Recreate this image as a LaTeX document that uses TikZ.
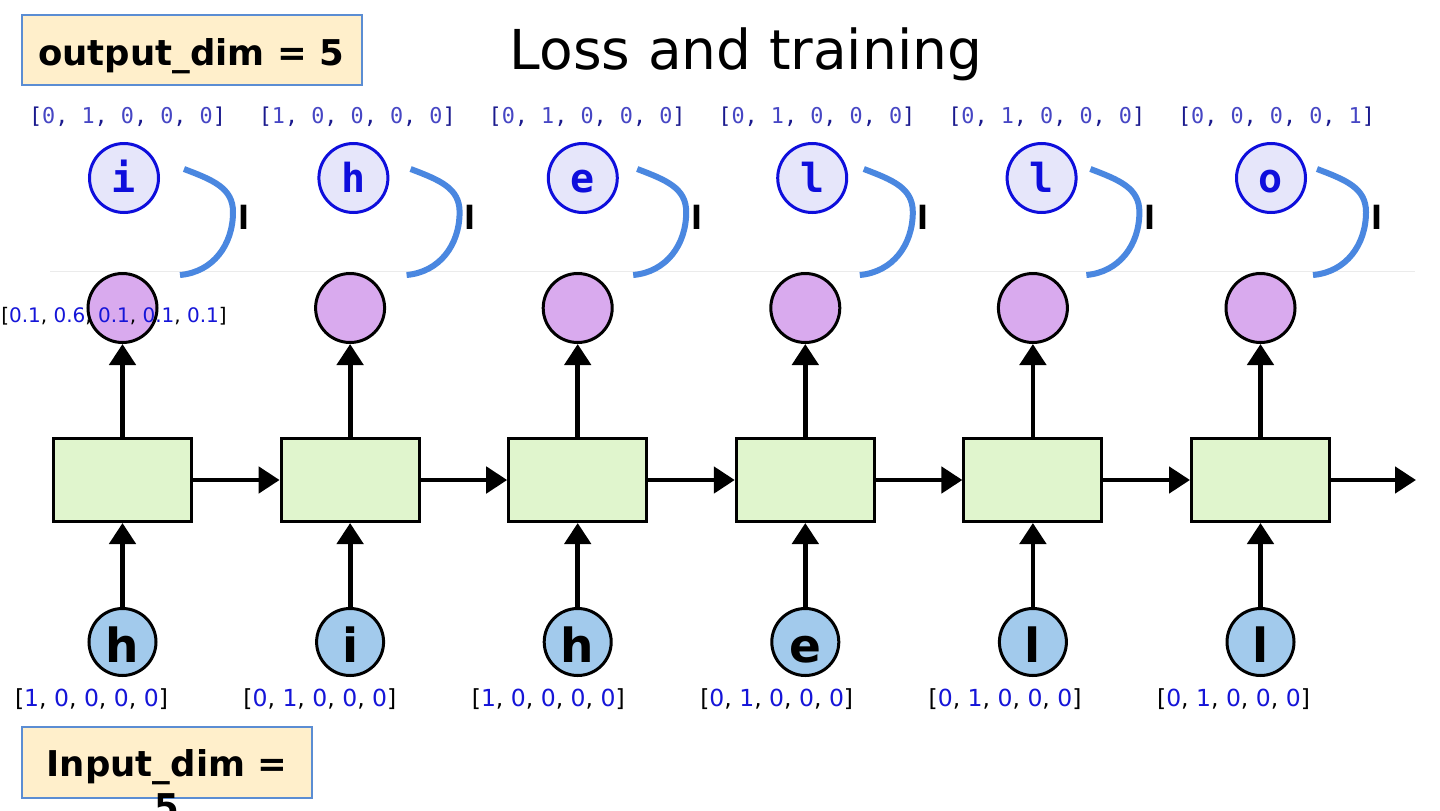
\documentclass[tikz,border=0pt]{standalone}
\usepackage{fontspec}
\setmainfont{DejaVu Sans}
\setmonofont{DejaVu Sans Mono}
\usetikzlibrary{arrows.meta}
\definecolor{purp}{HTML}{D9AAEE}
\definecolor{cellg}{HTML}{E0F5CD}
\definecolor{inblue}{HTML}{A2CAEC}
\definecolor{lav}{HTML}{E6E6FA}
\definecolor{outblue}{HTML}{0E0EDC}
\definecolor{boxfill}{HTML}{FFEFCB}
\definecolor{boxblue}{HTML}{5B8DD3}
\definecolor{curveblue}{HTML}{4A87E0}
\definecolor{brk}{HTML}{1A1A8E}
\definecolor{num}{HTML}{4646C4}
\definecolor{vnum}{HTML}{1515D8}
\newcommand\tvec[5]{\textcolor{brk}{[}\textcolor{num}{#1}\textcolor{brk}{,} \textcolor{num}{#2}\textcolor{brk}{,} \textcolor{num}{#3}\textcolor{brk}{,} \textcolor{num}{#4}\textcolor{brk}{,} \textcolor{num}{#5}\textcolor{brk}{]}}
\newcommand\bvec[5]{[\textcolor{vnum}{#1}, \textcolor{vnum}{#2}, \textcolor{vnum}{#3}, \textcolor{vnum}{#4}, \textcolor{vnum}{#5}]}
\begin{document}
\begin{tikzpicture}[x=1pt,y=-1pt,
  cell/.style={draw=black, line width=3pt, fill=cellg, minimum width=138pt, minimum height=83pt, inner sep=0pt},
  hid/.style={circle, fill=purp, minimum size=69pt, inner sep=0pt, outer sep=1.5pt},
  outc/.style={circle, draw=outblue, line width=3pt, fill=lav, minimum size=69pt, inner sep=0pt, text=outblue,
     font=\ttfamily\bfseries\fontsize{40}{40}\selectfont, text height=28pt, text depth=0pt},
  inc/.style={circle, draw=black, line width=3pt, fill=inblue, minimum size=67pt, inner sep=0pt,
     font=\bfseries\fontsize{47}{47}\selectfont, text height=40pt, text depth=0pt},
  arr/.style={line width=4.8pt, -{Triangle[length=21pt,width=26pt]}},
  losscurve/.style={line width=6pt, draw=curveblue},
  dimbox/.style={draw=boxblue, line width=2pt, fill=boxfill, inner sep=0pt},
  dimtext/.style={font=\bfseries\fontsize{35.5}{43}\selectfont, inner sep=0pt, align=center},
  toplab/.style={font=\ttfamily\fontsize{21.8}{26}\selectfont, anchor=base, inner sep=0pt},
  botlab/.style={font=\fontsize{23.5}{28}\selectfont, anchor=base, inner sep=0pt},
  lossmark/.style={font=\bfseries\fontsize{32}{32}\selectfont, anchor=base, inner sep=0pt}
]
\useasboundingbox (0,0) rectangle (1440,811);
\fill[white] (0,0) rectangle (1440,811);

% faint separator line
\draw[line width=1pt, black!8] (50,271) -- (1415,271);

% title
\node[font=\fontsize{55}{60}\selectfont, anchor=base, inner sep=0pt] (title) at (746,69) {Loss and training};

% dimension boxes
\node[dimbox, minimum width=340pt, minimum height=70pt] (obox) at (192,50) {};
\node[dimtext, anchor=base] (otext) at (191,65) {output\_dim = 5};
\node[dimbox, minimum width=290pt, minimum height=71pt] (ibox) at (167,762.5) {};
\node[dimtext, anchor=north] (itext) at (167,749) {Input\_dim =\\5};

% columns
\foreach \k/\tl/\tv/\bl/\bv in {
  0/i/{\tvec01000}/h/{\bvec10000},
  1/h/{\tvec10000}/i/{\bvec01000},
  2/e/{\tvec01000}/h/{\bvec10000},
  3/l/{\tvec01000}/e/{\bvec01000},
  4/l/{\tvec01000}/l/{\bvec01000},
  5/o/{\tvec00001}/l/{\bvec01000}} {
  \pgfmathsetmacro\cx{122.5+227.6*\k}
  \pgfmathsetmacro\ox{124+229.4*\k}
  \pgfmathsetmacro\lx{127.5+229.8*\k}
  \pgfmathsetmacro\bx{91.5+228.4*\k}
  \pgfmathsetmacro\mx{243+226.6*\k}
  \node[toplab] (tl\k) at (\lx,123) {\tv};
  \node[outc] (o\k) at (\ox,178) {\tl};
  \draw[losscurve] (\mx-59,169) .. controls (\mx-30,180) and (\mx-10,188) .. (\mx-10,212)
        .. controls (\mx-10,245) and (\mx-30,272) .. (\mx-63,275);
  \node[lossmark] (lm\k) at (\mx+0.5,229) {l};
  \node[hid] (h\k) at (\cx,308) {};
  \node[cell] (c\k) at (\cx,480) {};
  \node[inc] (x\k) at (\cx,642) {\bl};
  \node[botlab] (bl\k) at (\bx,706) {\bv};
  \draw[arr] (c\k.north) -- (h\k.south);
  \draw[arr] (x\k.north) -- (c\k.south);
}

% purple label under circle borders
\node[font=\fontsize{20}{24}\selectfont, anchor=base, inner sep=0pt] (hl0) at (114,322)
  {[\textcolor{vnum}{0.1}, \textcolor{vnum}{0.6}, \textcolor{vnum}{0.1}, \textcolor{vnum}{0.1}, \textcolor{vnum}{0.1}]};
\foreach \k in {0,...,5} {
  \draw[line width=3pt] (h\k.center) circle[radius=34.5];
}

% horizontal arrows
\foreach \k/\j in {0/1,1/2,2/3,3/4,4/5} {
  \draw[arr] (c\k.east) -- (c\j.west);
}
\coordinate (hend) at (1416,480);
\draw[arr] (c5.east) -- (hend);
\end{tikzpicture}
\end{document}
